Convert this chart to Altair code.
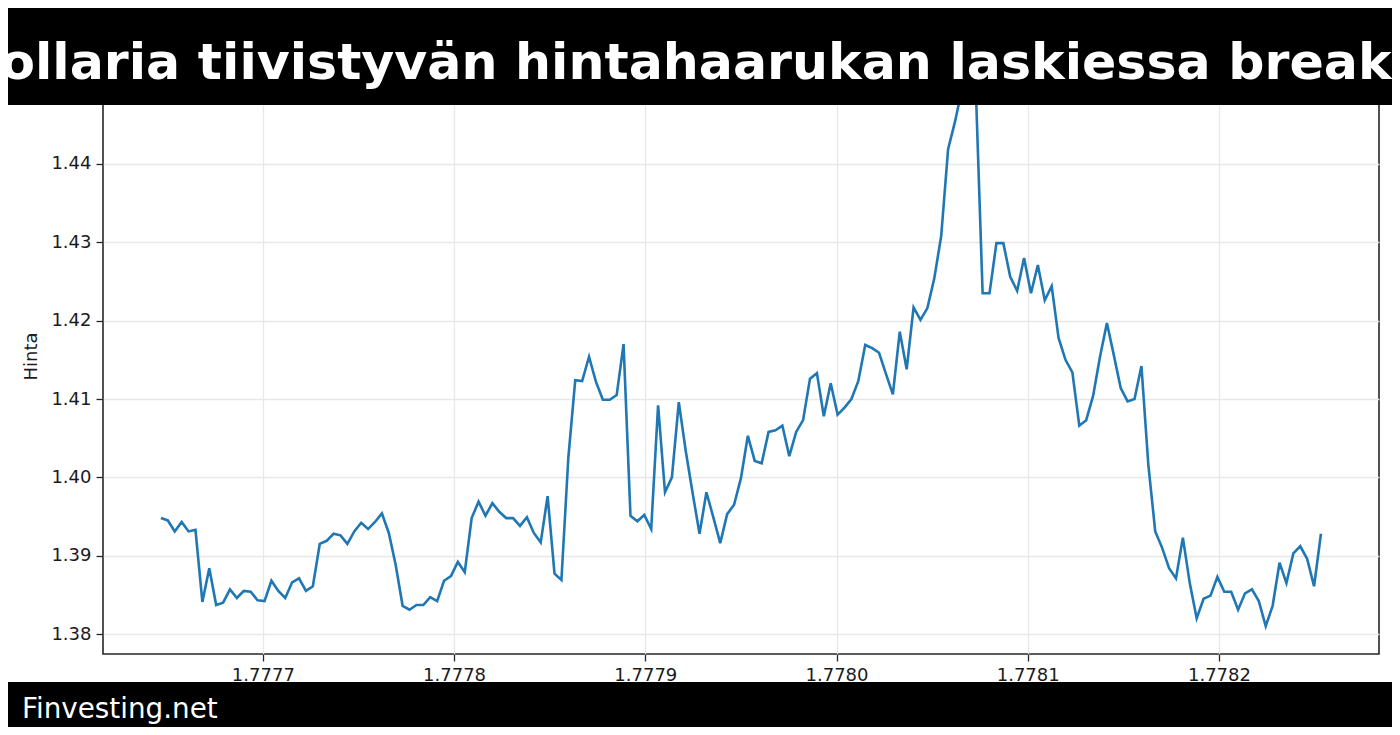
import altair as alt
import pandas as pd

# ---- data ----
x_start = 1.7776467
x_step = 0.000003611
prices = [
    1.3948, 1.3945, 1.3931, 1.3943, 1.3931, 1.3933, 1.3841, 1.3884, 1.3837, 1.3840,
    1.3857, 1.3846, 1.3855, 1.3854, 1.3843, 1.3842, 1.3868, 1.3855, 1.3846, 1.3866,
    1.3871, 1.3855, 1.3861, 1.3915, 1.3919, 1.3928, 1.3926, 1.3915, 1.3931, 1.3942,
    1.3934, 1.3943, 1.3954, 1.3929, 1.3888, 1.3836, 1.3831, 1.3837, 1.3837, 1.3847,
    1.3842, 1.3868, 1.3874, 1.3892, 1.3879, 1.3948, 1.3969, 1.3951, 1.3967, 1.3956,
    1.3948, 1.3948, 1.3938, 1.3949, 1.3929, 1.3917, 1.3976, 1.3877, 1.3869, 1.4025,
    1.4124, 1.4123, 1.4154, 1.4122, 1.4099, 1.4099, 1.4105, 1.4170, 1.3951, 1.3944,
    1.3952, 1.3934, 1.4092, 1.3981, 1.4000, 1.4096, 1.4034, 1.3980, 1.3928, 1.3981,
    1.3949, 1.3916, 1.3953, 1.3965, 1.3999, 1.4053, 1.4021, 1.4018, 1.4058, 1.4060,
    1.4066, 1.4027, 1.4058, 1.4073, 1.4126, 1.4133, 1.4078, 1.4120, 1.4080, 1.4089,
    1.4100, 1.4123, 1.4169, 1.4165, 1.4159, 1.4132, 1.4106, 1.4186, 1.4138, 1.4217,
    1.4201, 1.4216, 1.4254, 1.4308, 1.4419, 1.4454, 1.4495, 1.4501, 1.4500, 1.4235,
    1.4235, 1.4299, 1.4299, 1.4256, 1.4238, 1.4280, 1.4235, 1.4271, 1.4226, 1.4244,
    1.4178, 1.4150, 1.4134, 1.4066, 1.4073, 1.4104, 1.4154, 1.4197, 1.4156, 1.4114,
    1.4097, 1.4100, 1.4142, 1.4016, 1.3931, 1.3910, 1.3884, 1.3871, 1.3923, 1.3865,
    1.3820, 1.3845, 1.3849, 1.3873, 1.3854, 1.3854, 1.3831, 1.3852, 1.3857, 1.3842,
    1.3810, 1.3836, 1.3891, 1.3865, 1.3903, 1.3912, 1.3896, 1.3861, 1.3928,
]
x_ticks = [1.7777, 1.7778, 1.7779, 1.7780, 1.7781, 1.7782]
y_ticks = [1.38, 1.39, 1.40, 1.41, 1.42, 1.43, 1.44]
x_domain = [1.7776164, 1.7782837]
y_domain = [1.37745, 1.45353]
title_text = "dollaria tiivistyvän hintahaarukan laskiessa breakout"
footer_text = "Finvesting.net"
y_label = "Hinta"

df = pd.DataFrame({
    "x": [x_start + i * x_step for i in range(len(prices))],
    "price": prices,
})
one = pd.DataFrame({"k": [0]})

W, H = 1276, 596

line = alt.Chart(df).mark_line(color="#1f77b4", strokeWidth=2.6, clip=True).encode(
    x=alt.X("x:Q",
            scale=alt.Scale(domain=x_domain, nice=False, zero=False),
            axis=alt.Axis(values=x_ticks, format=".4f", title=None)),
    y=alt.Y("price:Q",
            scale=alt.Scale(domain=y_domain, nice=False, zero=False),
            axis=alt.Axis(values=y_ticks, format=".2f", title=y_label,
                          titleFontSize=18, titleFontWeight="normal",
                          titleFont="DejaVu Sans", titleColor="#1a1a1a",
                          titlePadding=10)),
)

top_bar = alt.Chart(one).mark_rect(color="black").encode(
    x=alt.value(-110), x2=alt.value(1320), y=alt.value(-70), y2=alt.value(47)
)
title = alt.Chart(one).mark_text(
    text=title_text, font="DejaVu Sans", fontWeight="bold", fontSize=50.6,
    color="white", align="left", baseline="alphabetic"
).encode(x=alt.value(-139), y=alt.value(21))

bottom_bar = alt.Chart(one).mark_rect(color="black").encode(
    x=alt.value(-110), x2=alt.value(1320), y=alt.value(624), y2=alt.value(700)
)
footer = alt.Chart(one).mark_text(
    text=footer_text, font="DejaVu Sans", fontSize=27.8,
    color="white", align="left", baseline="alphabetic"
).encode(x=alt.value(-81), y=alt.value(660))

chart = alt.layer(line, top_bar, title, bottom_bar, footer).properties(
    width=W, height=H,
    autosize=alt.AutoSizeParams(type="none"),
    padding={"left": 95, "top": 50, "right": 13, "bottom": 73},
    background="white",
).configure_view(
    stroke="#262626", strokeWidth=1.6
).configure_axis(
    grid=True, gridColor="#e8e8e8", gridWidth=1.3, domain=False,
    tickColor="#262626", tickSize=7, tickWidth=1.3,
    labelFont="DejaVu Sans", labelFontSize=18, labelColor="#1a1a1a",
    labelPadding=5,
)

chart.save("out.html", embed_options={"renderer": "svg", "actions": False})
